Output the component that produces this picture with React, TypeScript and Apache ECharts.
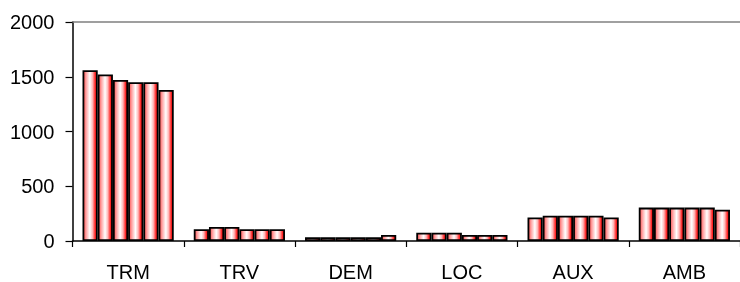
import React, { useEffect, useRef } from "react";
import * as echarts from "echarts";

const categories = ["TRM", "TRV", "DEM", "LOC", "AUX", "AMB"];
const series1 = [1560, 107, 35, 75, 215, 305];
const series2 = [1520, 128, 35, 75, 230, 305];
const series3 = [1470, 128, 35, 75, 230, 305];
const series4 = [1450, 108, 35, 55, 230, 305];
const series5 = [1450, 108, 35, 55, 230, 305];
const series6 = [1380, 108, 55, 55, 215, 285];
const yTicks = { min: 0, max: 2000, interval: 500 };

const allSeries = [series1, series2, series3, series4, series5, series6];

export default function App() {
  const ref = useRef<HTMLDivElement>(null);
  useEffect(() => {
    if (!ref.current) return;
    const chart = echarts.init(ref.current, undefined, { renderer: "svg" });
    const fill = new echarts.graphic.LinearGradient(0, 0, 1, 0, [
      { offset: 0, color: "#ff5050" },
      { offset: 0.22, color: "#ffa8a8" },
      { offset: 0.48, color: "#ffffff" },
      { offset: 0.68, color: "#ffb8b8" },
      { offset: 0.86, color: "#ff3030" },
      { offset: 1, color: "#ff0000" },
    ]);
    const font = "'Liberation Sans', Arial, sans-serif";
    chart.setOption({
      animation: false,
      grid: { left: 72.5, top: 22, bottom: 40, width: 671, containLabel: false },
      xAxis: [
        {
          type: "category",
          data: categories,
          axisLine: { lineStyle: { color: "#000", width: 1.5 } },
          axisTick: { show: true, length: 6, lineStyle: { color: "#000", width: 1.2 } },
          axisLabel: { color: "#000", fontSize: 20, fontFamily: font, margin: 21 },
        },
        {
          type: "category",
          position: "top",
          data: categories,
          axisLine: { show: true, lineStyle: { color: "#808080", width: 1.5 } },
          axisTick: { show: false },
          axisLabel: { show: false },
        },
      ],
      yAxis: {
        type: "value",
        min: yTicks.min,
        max: yTicks.max,
        interval: yTicks.interval,
        axisLine: { show: true, lineStyle: { color: "#000", width: 1.5 } },
        axisTick: { show: true, length: 7, lineStyle: { color: "#000", width: 1.2 } },
        axisLabel: {
          color: "#000",
          fontSize: 20,
          fontFamily: font,
          margin: 18,
          formatter: (v: number) => String(v),
        },
        splitLine: { show: false },
      },
      series: allSeries.map((d, i) => ({
        type: "bar",
        name: "S" + (i + 1),
        data: d,
        barGap: "0%",
        barCategoryGap: "18%",
        itemStyle: { color: fill, borderColor: "#000", borderWidth: 1.8 },
      })),
    });
    return () => chart.dispose();
  }, []);
  return (
    <div
      ref={ref}
      style={{ position: "fixed", left: 0, top: 0, width: 740, height: 282 }}
    />
  );
}
